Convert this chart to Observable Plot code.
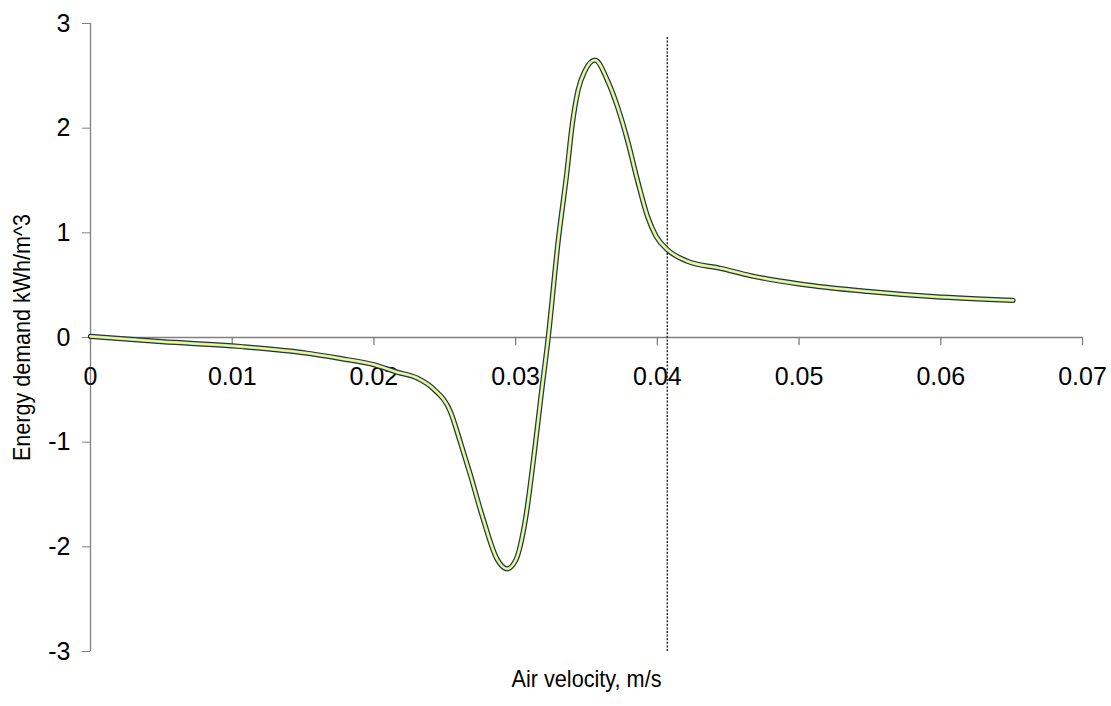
<!DOCTYPE html>
<html>
<head>
<meta charset="utf-8">
<script src="https://cdn.jsdelivr.net/npm/d3@7"></script>
<script src="https://cdn.jsdelivr.net/npm/@observablehq/plot@0.6"></script>
<style>
  html, body { margin: 0; padding: 0; background: #fff; }
</style>
</head>
<body>
<div id="chart"></div>
<script>
// Data
const velocity = [0, 0.005, 0.0106, 0.0153, 0.0176, 0.020, 0.0216, 0.0231, 0.0242, 0.0254, 0.0261, 0.0268, 0.0277, 0.0287, 0.0294, 0.0300, 0.0307, 0.0313, 0.0318, 0.0323, 0.0330, 0.0336, 0.0340, 0.0344, 0.0349, 0.0356, 0.0365, 0.0372, 0.0379, 0.0386, 0.0393, 0.0399, 0.0407, 0.0421, 0.0445, 0.0466, 0.0501, 0.0548, 0.0595, 0.0651];
const energy   = [0.01, -0.04, -0.086, -0.15, -0.20, -0.26, -0.33, -0.39, -0.49, -0.71, -1.0, -1.31, -1.73, -2.12, -2.21, -2.13, -1.73, -1.12, -0.55, 0.0, 0.92, 1.56, 2.04, 2.36, 2.55, 2.65, 2.45, 2.20, 1.88, 1.50, 1.16, 0.97, 0.84, 0.73, 0.66, 0.59, 0.51, 0.44, 0.39, 0.355];
const xTicks = [0, 0.01, 0.02, 0.03, 0.04, 0.05, 0.06, 0.07];
const xTickLabels = ["0", "0.01", "0.02", "0.03", "0.04", "0.05", "0.06", "0.07"];
const yTicks = [-3, -2, -1, 0, 1, 2, 3];
const markerX = [0.0407];
const markerTop = 2.88;
const xTitle = "Air velocity, m/s";
const yTitle = "Energy demand kWh/m^3";

const data = velocity.map((v, i) => ({x: v, y: energy[i]}));
const xTickData = xTicks.map((t, i) => ({x: t, label: xTickLabels[i]}));
const narrow = "'Liberation Sans Narrow', 'Arial Narrow', 'Liberation Sans', sans-serif";

const chart = Plot.plot({
  width: 1111,
  height: 706,
  marginLeft: 90,
  marginRight: 29,
  marginTop: 23,
  marginBottom: 55,
  style: {fontFamily: "'Liberation Sans', Arial, sans-serif", fontSize: "25px", background: "#fff", color: "#000"},
  x: {domain: [0, 0.07], axis: null},
  y: {domain: [-3, 3], axis: null},
  marks: [
    Plot.ruleY([0], {stroke: "#808080", strokeWidth: 1.3}),
    Plot.ruleX([0], {stroke: "#808080", strokeWidth: 1.3}),
    Plot.axisY(yTicks, {anchor: "left", tickSize: 8, tickPadding: 12, stroke: "#808080", fill: "#000", fontSize: 25, tickFormat: d => String(d), label: null}),
    Plot.vector(xTickData, {x: "x", y: 0, length: 7, rotate: 180, anchor: "start", stroke: "#808080", strokeWidth: 1.3, shape: {draw(ctx, l) { ctx.moveTo(0, 0); ctx.lineTo(0, -l); }}}),
    Plot.text(xTickData, {x: "x", y: 0, text: "label", dy: 39, fontSize: 25, fill: "#000"}),
    Plot.ruleX(markerX, {y1: -3, y2: markerTop, stroke: "#222", strokeWidth: 1.4, strokeDasharray: "2,1.6"}),
    Plot.line(data, {x: "x", y: "y", curve: "monotone-x", stroke: "#263636", strokeWidth: 5.2}),
    Plot.line(data, {x: "x", y: "y", curve: "monotone-x", stroke: "#a8dcc8", strokeWidth: 2.8}),
    Plot.line(data, {x: "x", y: "y", curve: "monotone-x", stroke: "#f8f888", strokeWidth: 1.8}),
    Plot.text([xTitle], {frameAnchor: "bottom", dy: 28, text: d => d, fontSize: 24, fill: "#000", fontFamily: narrow, textAnchor: "middle", lineAnchor: "middle", className: "xtitle"}),
    Plot.text([yTitle], {frameAnchor: "left", dx: -68, rotate: -90, text: d => d, fontSize: 24, fill: "#000", fontFamily: narrow, textAnchor: "middle", lineAnchor: "middle", className: "ytitle"})
  ]
});
document.getElementById("chart").appendChild(chart);
// compress axis titles to the narrow width seen in the reference
d3.select(chart).selectAll(".xtitle text").attr("textLength", 150).attr("lengthAdjust", "spacingAndGlyphs");
d3.select(chart).selectAll(".ytitle text").attr("textLength", 247).attr("lengthAdjust", "spacingAndGlyphs");
</script>
</body>
</html>
